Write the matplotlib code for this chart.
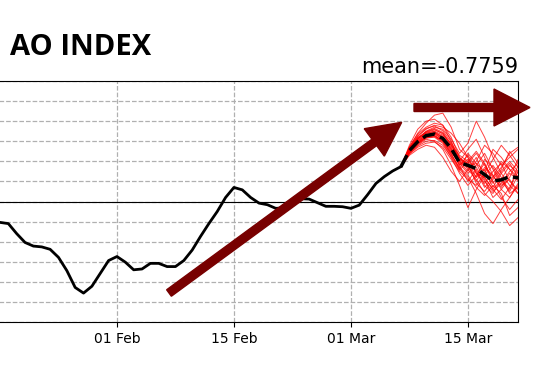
import matplotlib
matplotlib.use("Agg")
import matplotlib.pyplot as plt
import matplotlib.dates as mdates
from matplotlib.patches import FancyArrow
import numpy as np

# Наблюдаемый индекс AO (ежедневно, начиная с 14 января)
obs_start = np.datetime64("2021-01-14")
obs_values = [
    -0.45, -0.48, -0.50, -0.52,
    -0.52, -0.55, -0.80, -1.02, -1.11, -1.13, -1.19, -1.39, -1.72, -2.14,
    -2.28, -2.11, -1.79, -1.47, -1.37, -1.51, -1.70, -1.68, -1.54, -1.54,
    -1.62, -1.62, -1.47, -1.21, -0.87, -0.55, -0.25, 0.10, 0.35, 0.29,
    0.10, -0.04, -0.08, -0.17, -0.16, -0.05, 0.07, 0.06, -0.03, -0.12,
    -0.12, -0.13, -0.17, -0.09, 0.17, 0.45, 0.62, 0.76, 0.87,
]

# Прогноз: ансамбль и его среднее (ежедневно, начиная с 7 марта)
fc_start = np.datetime64("2021-03-07")
fc_mean = [0.87, 1.27, 1.49, 1.64, 1.68, 1.57, 1.32, 0.97, 0.90, 0.82,
           0.67, 0.51, 0.54, 0.62, 0.59, 0.60]
fc_members = [
    [0.87, 1.35, 1.70, 1.95, 2.15, 2.20, 1.85, 1.30, 1.10, 0.70, 0.60, 0.30, 0.55, 0.90, 0.70, 0.5],
    [0.87, 1.20, 1.40, 1.55, 1.50, 1.30, 0.90, 0.40, -0.15, 0.30, 0.65, 0.90, 0.60, 0.20, 0.35, 0.5],
    [0.87, 1.30, 1.55, 1.75, 1.85, 1.80, 1.55, 1.20, 1.45, 2.00, 1.60, 1.10, 0.70, 0.40, 0.20, 0.3],
    [0.87, 1.25, 1.45, 1.60, 1.65, 1.50, 1.20, 0.80, 0.60, 0.20, -0.30, -0.55, -0.20, 0.10, 0.40, 0.6],
    [0.87, 1.40, 1.80, 2.00, 2.05, 1.90, 1.60, 1.10, 0.80, 1.00, 1.40, 1.20, 0.90, 1.10, 1.30, 1.0],
    [0.87, 1.15, 1.30, 1.40, 1.35, 1.10, 0.75, 0.50, 0.80, 0.55, 0.20, 0.00, -0.25, -0.60, -0.40, -0.2],
    [0.87, 1.30, 1.60, 1.70, 1.75, 1.65, 1.45, 1.05, 0.95, 1.20, 0.90, 0.60, 0.85, 1.20, 1.35, 1.1],
    [0.87, 1.22, 1.42, 1.58, 1.60, 1.45, 1.10, 0.70, 0.40, 0.65, 0.95, 0.50, 0.10, -0.20, 0.05, 0.3],
    [0.87, 1.33, 1.62, 1.80, 1.90, 1.85, 1.70, 1.45, 1.10, 0.75, 0.35, 0.60, 1.00, 0.80, 0.50, 0.4],
    [0.87, 1.18, 1.35, 1.45, 1.48, 1.35, 1.05, 0.75, 0.55, 0.40, 0.70, 1.05, 1.40, 1.15, 0.85, 0.7],
    [0.87, 1.28, 1.52, 1.68, 1.72, 1.62, 1.30, 0.90, 1.15, 0.85, 0.50, 0.25, 0.45, 0.75, 0.95, 0.8],
    [0.87, 1.24, 1.48, 1.62, 1.68, 1.55, 1.25, 0.95, 0.70, 0.90, 1.20, 0.80, 0.40, 0.55, 0.20, 0.1],
    [0.87, 1.36, 1.68, 1.85, 1.95, 1.90, 1.50, 1.00, 1.30, 1.55, 1.10, 0.65, 0.30, 0.10, 0.45, 0.7],
    [0.87, 1.21, 1.44, 1.58, 1.62, 1.48, 1.15, 0.85, 0.65, 0.35, 0.15, 0.40, 0.20, -0.35, -0.15, 0.2],
    [0.87, 1.31, 1.56, 1.72, 1.78, 1.70, 1.40, 1.15, 1.00, 0.60, 0.80, 0.35, 0.70, 0.95, 0.60, 0.4],
    [0.87, 1.26, 1.50, 1.65, 1.70, 1.60, 1.35, 1.00, 0.75, 1.10, 0.60, 0.30, 0.05, 0.35, 0.75, 0.9],
    [0.87, 1.29, 1.54, 1.70, 1.74, 1.58, 1.28, 0.92, 1.05, 0.70, 0.45, 0.75, 0.95, 0.50, 0.30, 0.5],
    [0.87, 1.23, 1.46, 1.62, 1.64, 1.52, 1.22, 0.98, 0.85, 0.95, 0.55, 0.10, 0.30, 0.60, 1.05, 1.2],
    [0.87, 1.34, 1.64, 1.82, 1.88, 1.76, 1.48, 1.10, 0.90, 0.50, 0.85, 0.65, 0.35, 0.70, 0.55, 0.3],
    [0.87, 1.19, 1.38, 1.50, 1.52, 1.40, 1.12, 0.78, 1.00, 1.25, 0.95, 0.45, 0.75, 1.00, 0.75, 0.6],
    [0.87, 1.27, 1.50, 1.66, 1.69, 1.56, 1.32, 0.88, 0.50, 0.80, 0.40, 0.20, 0.55, 0.30, 0.90, 0.8],
    [0.87, 1.32, 1.58, 1.74, 1.82, 1.72, 1.42, 1.02, 0.88, 0.60, 1.05, 0.85, 0.50, 0.25, 0.65, 0.9],
    [0.87, 1.25, 1.47, 1.60, 1.63, 1.50, 1.18, 0.82, 1.20, 0.95, 0.75, 1.30, 1.10, 0.80, 0.60, 0.4],
    [0.87, 1.30, 1.57, 1.73, 1.80, 1.68, 1.38, 1.08, 0.95, 0.45, 0.25, 0.55, 0.80, 1.25, 0.95, 0.7],
]

title_text = "AO INDEX"
mean_text = "mean=-0.7759"
ARROW_COLOR = "#780000"

obs_dates = obs_start + np.arange(len(obs_values))
fc_dates = fc_start + np.arange(len(fc_mean))

fig = plt.figure(figsize=(5.33, 3.70), dpi=100)
# оси выходят за левый край рисунка, как в исходнике
ax = fig.add_axes([-0.0314, 0.1297, 1.0033, 0.6514])

for member in fc_members:
    ax.plot(fc_dates, member, color="red", lw=0.7, alpha=0.75, zorder=3)
ax.plot(obs_dates, obs_values, color="black", lw=2.0, zorder=4)
ax.plot(fc_dates, fc_mean, color="black", lw=2.5, ls="--", zorder=5)

ax.axhline(0, color="black", lw=0.8, zorder=2)
ax.set_xlim(np.datetime64("2021-01-16"), np.datetime64("2021-03-21"))
ax.set_ylim(-3, 3)
ax.set_yticks(np.arange(-3, 3.01, 0.5))
ax.xaxis.set_major_locator(mdates.DayLocator(bymonthday=[1, 15]))
ax.xaxis.set_major_formatter(mdates.DateFormatter("%d %b"))
ax.grid(True, linestyle="--", color="#b0b0b0", lw=0.9)
ax.set_axisbelow(True)
ax.tick_params(labelsize=10)
# подписи оси Y остаются за краем рисунка — не рисуем их
ax.tick_params(axis="y", labelleft=False)

ax.set_title(mean_text, loc="right", fontsize=15, pad=6)
fig.text(10 / 533, 0.851, title_text, fontsize=21, fontweight="bold",
         family=["Open Sans", "DejaVu Sans"], va="baseline", ha="left")

# стрелки в дюймах рисунка
tr = fig.dpi_scale_trans
fig.add_artist(FancyArrow(1.69, 0.77, 2.327, 1.707, width=0.08, head_width=0.34,
                          head_length=0.34, length_includes_head=True,
                          color=ARROW_COLOR, transform=tr, zorder=10))
fig.add_artist(FancyArrow(4.14, 2.625, 1.16, 0.0, width=0.08, head_width=0.37,
                          head_length=0.36, length_includes_head=True,
                          color=ARROW_COLOR, transform=tr, zorder=10))

fig.savefig("out.png", dpi=100)
